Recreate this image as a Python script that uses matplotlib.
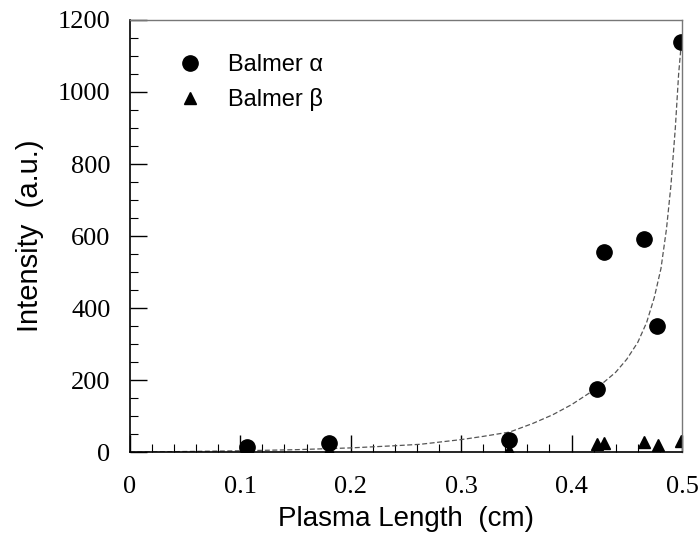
import matplotlib
matplotlib.use("Agg")
import matplotlib.pyplot as plt
from matplotlib.ticker import MultipleLocator

# Balmer alpha data (circles)
alpha_x = [0.106, 0.180, 0.343, 0.423, 0.429, 0.466, 0.477, 0.499]
alpha_y = [14, 25, 33, 176, 556, 592, 350, 1139]

# Balmer beta data (triangles)
beta_x = [0.106, 0.180, 0.343, 0.423, 0.429, 0.466, 0.478, 0.499]
beta_y = [4, 6, 6, 22, 25, 28, 21, 30]

# Fitted curve
fit_x = [0.0, 0.05, 0.10, 0.15, 0.20, 0.24, 0.263, 0.30, 0.32, 0.344, 0.365, 0.383, 0.40,
         0.423, 0.44, 0.45, 0.46, 0.468, 0.475, 0.481, 0.486, 0.490, 0.494, 0.497, 0.499]
fit_y = [0, 2, 4, 7, 12, 18, 22, 35, 44, 56, 80, 104, 132,
         178, 222, 258, 305, 360, 430, 510, 620, 740, 900, 1050, 1120]

xticks = [0, 0.1, 0.2, 0.3, 0.4, 0.5]
xticklabels = ["0", "0.1", "0.2", "0.3", "0.4", "0.5"]
yticks = [0, 200, 400, 600, 800, 1000, 1200]

fig = plt.figure(figsize=(6.98, 5.39), dpi=100)
ax = fig.add_axes([0.186, 0.161, 0.791, 0.802])

ax.plot(fit_x, fit_y, linestyle=(0, (4, 2)), color="#555555", linewidth=0.9)
ax.plot(alpha_x, alpha_y, "o", color="black", markersize=11, label="Balmer \u03b1")
ax.plot(beta_x, beta_y, "^", color="black", markersize=8, label="Balmer \u03b2")

ax.set_xlim(0, 0.5)
ax.set_ylim(0, 1200)
ax.set_xticks(xticks)
ax.set_xticklabels(xticklabels)
ax.set_yticks(yticks)
ax.xaxis.set_minor_locator(MultipleLocator(0.02))
ax.yaxis.set_minor_locator(MultipleLocator(50))

serif = ["Liberation Serif", "DejaVu Serif"]
for lab in ax.get_xticklabels() + ax.get_yticklabels():
    lab.set_family(serif)
    lab.set_fontsize(19)

ax.tick_params(which="major", direction="in", length=12, width=1, color="black")
ax.tick_params(axis="x", which="major", pad=17)
ax.tick_params(axis="y", which="major", pad=14)
ax.tick_params(which="minor", direction="in", length=6, width=0.8, color="black")
ax.tick_params(top=False, right=False, which="both")

for side in ["top", "right"]:
    ax.spines[side].set_color("#777777")
    ax.spines[side].set_linewidth(1.0)
for side in ["left", "bottom"]:
    ax.spines[side].set_color("black")
    ax.spines[side].set_linewidth(1.2)

sans = ["Liberation Sans", "DejaVu Sans"]
ax.set_xlabel("Plasma Length  (cm)", family=sans, fontsize=20, labelpad=6)
ax.set_ylabel("Intensity  (a.u.)", family=sans, fontsize=21, labelpad=10)

leg = ax.legend(loc="upper left", bbox_to_anchor=(0.045, 0.97), frameon=False,
                prop={"family": sans, "size": 17}, handletextpad=1.0,
                labelspacing=0.5, handlelength=1.2)

fig.savefig("out.png", dpi=100)
